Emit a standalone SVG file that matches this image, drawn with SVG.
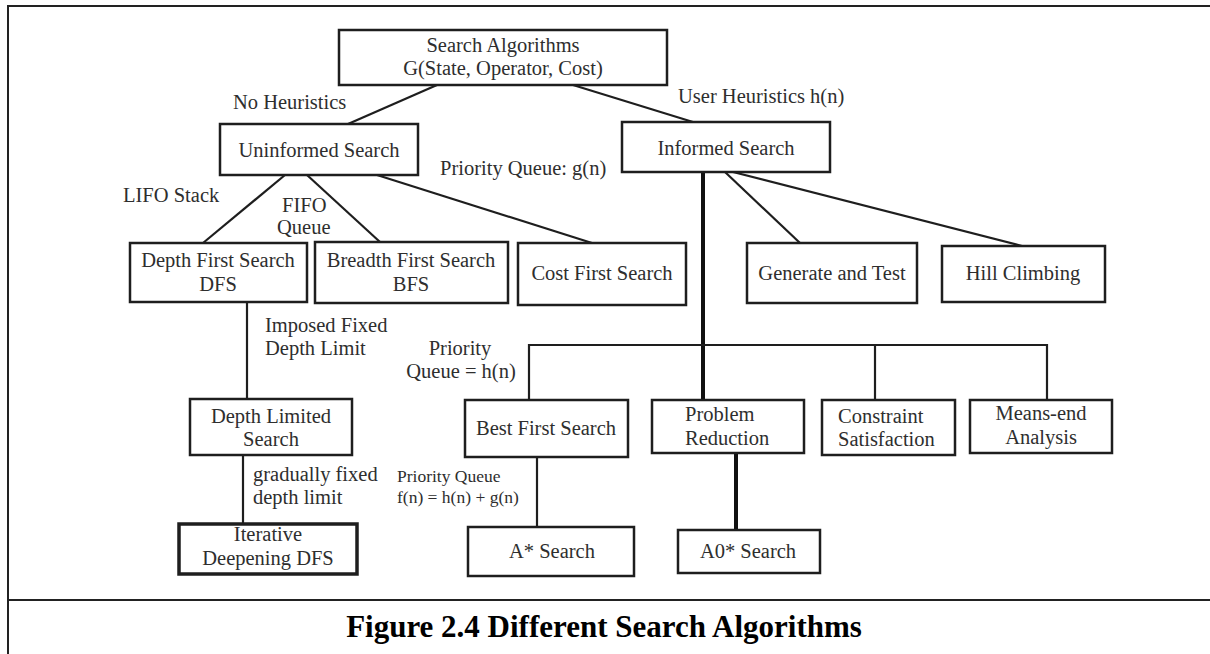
<svg xmlns="http://www.w3.org/2000/svg" width="1210" height="654" viewBox="0 0 1210 654">
<style>
  .box { fill: #ffffff; stroke: #1e1e1e; stroke-width: 2.5; }
  .thickbox { fill: #ffffff; stroke: #1e1e1e; stroke-width: 3.5; }
  .t { font-family: "Liberation Serif", "Times New Roman", serif; font-size: 20.5px; fill: #2e2e2e; }
  .c { text-anchor: middle; }
  .s { font-size: 17.5px; }
  .edge { stroke: #1e1e1e; stroke-width: 2.2; fill: none; }
  .thick { stroke: #111; stroke-width: 4; fill: none; }
  .frame { stroke: #222; stroke-width: 2; fill: none; }
  .cap { font-family: "Liberation Serif", "Times New Roman", serif; font-size: 31px; font-weight: bold; fill: #000; text-anchor: middle; }
</style>
<rect x="0" y="0" width="1210" height="654" fill="#ffffff"/>
<g id="frame">
  <path class="frame" d="M8,654 V6 H1210"/>
  <path class="frame" d="M8,600 H1210"/>
</g>
<g id="connectors">
  <path class="edge" d="M437,85 L348,124"/>
  <path class="edge" d="M573,85 L693,122"/>
  <path class="edge" d="M285,175 L203,243"/>
  <path class="edge" d="M307,175 L380,242"/>
  <path class="edge" d="M377,175 L592,243"/>
  <path class="edge" d="M725,172 L800,243"/>
  <path class="edge" d="M733,172 L1022,246"/>
  <path class="thick" d="M703,172 V400"/>
  <path class="edge" d="M529,400 V345 H1047 V400"/>
  <path class="edge" d="M875,345 V400"/>
  <path class="edge" d="M247,302 V399"/>
  <path class="edge" d="M243,455 V524"/>
  <path class="edge" d="M537,457 V527"/>
  <path class="thick" d="M736,453 V530"/>
</g>
<g id="labels">
  <text class="t" x="233" y="109">No Heuristics</text>
  <text class="t" x="678" y="103">User Heuristics h(n)</text>
  <text class="t" x="440" y="175">Priority Queue: g(n)</text>
  <text class="t" x="123" y="202">LIFO Stack</text>
  <text class="t" x="282" y="212">FIFO</text>
  <text class="t" x="277" y="234">Queue</text>
  <text class="t" x="265" y="332">Imposed Fixed</text>
  <text class="t" x="265" y="355">Depth Limit</text>
  <text class="t c" x="460" y="355">Priority</text>
  <text class="t c" x="461" y="378">Queue = h(n)</text>
  <text class="t" x="253" y="481">gradually fixed</text>
  <text class="t" x="253" y="504">depth limit</text>
  <text class="t s" x="397" y="482">Priority Queue</text>
  <text class="t s" x="397" y="503">f(n) = h(n) + g(n)</text>
</g>
<g id="root">
  <rect class="box" x="339" y="30" width="328" height="55"/>
  <text class="t c" x="503" y="52">Search Algorithms</text>
  <text class="t c" x="503" y="75">G(State, Operator, Cost)</text>
</g>
<g id="uninformed">
  <rect class="box" x="220" y="124" width="198" height="51"/>
  <text class="t c" x="319" y="157">Uninformed Search</text>
</g>
<g id="informed">
  <rect class="box" x="622" y="122" width="208" height="50"/>
  <text class="t c" x="726" y="155">Informed Search</text>
</g>
<g id="dfs">
  <rect class="box" x="130" y="243" width="177" height="59"/>
  <text class="t c" x="218" y="267">Depth First Search</text>
  <text class="t c" x="218" y="291">DFS</text>
</g>
<g id="bfs">
  <rect class="box" x="315" y="242" width="193" height="61"/>
  <text class="t c" x="411" y="267">Breadth First Search</text>
  <text class="t c" x="411" y="291">BFS</text>
</g>
<g id="cost">
  <rect class="box" x="518" y="243" width="168" height="62"/>
  <text class="t c" x="602" y="280">Cost First Search</text>
</g>
<g id="generate">
  <rect class="box" x="747" y="243" width="170" height="60"/>
  <text class="t c" x="832" y="280">Generate and Test</text>
</g>
<g id="hill">
  <rect class="box" x="942" y="246" width="163" height="56"/>
  <text class="t c" x="1023" y="280">Hill Climbing</text>
</g>
<g id="dls">
  <rect class="box" x="190" y="399" width="162" height="56"/>
  <text class="t c" x="271" y="423">Depth Limited</text>
  <text class="t c" x="271" y="446">Search</text>
</g>
<g id="iddfs">
  <rect class="thickbox" x="179" y="524" width="178" height="50"/>
  <text class="t c" x="268" y="541">Iterative</text>
  <text class="t c" x="268" y="565">Deepening DFS</text>
</g>
<g id="best">
  <rect class="box" x="465" y="400" width="163" height="57"/>
  <text class="t c" x="546" y="435">Best First Search</text>
</g>
<g id="problem">
  <rect class="box" x="652" y="400" width="152" height="53"/>
  <text class="t" x="685" y="421">Problem</text>
  <text class="t" x="685" y="445">Reduction</text>
</g>
<g id="constraint">
  <rect class="box" x="822" y="400" width="133" height="55"/>
  <text class="t" x="838" y="423">Constraint</text>
  <text class="t" x="838" y="446">Satisfaction</text>
</g>
<g id="meansend">
  <rect class="box" x="970" y="400" width="142" height="53"/>
  <text class="t c" x="1041" y="420">Means-end</text>
  <text class="t c" x="1041" y="444">Analysis</text>
</g>
<g id="astar">
  <rect class="box" x="468" y="527" width="166" height="49"/>
  <text class="t c" x="552" y="558">A* Search</text>
</g>
<g id="aostar">
  <rect class="box" x="678" y="530" width="142" height="43"/>
  <text class="t c" x="748" y="558">A0* Search</text>
</g>
<g id="caption">
  <text class="cap" x="604" y="637">Figure 2.4 Different Search Algorithms</text>
</g>
</svg>
